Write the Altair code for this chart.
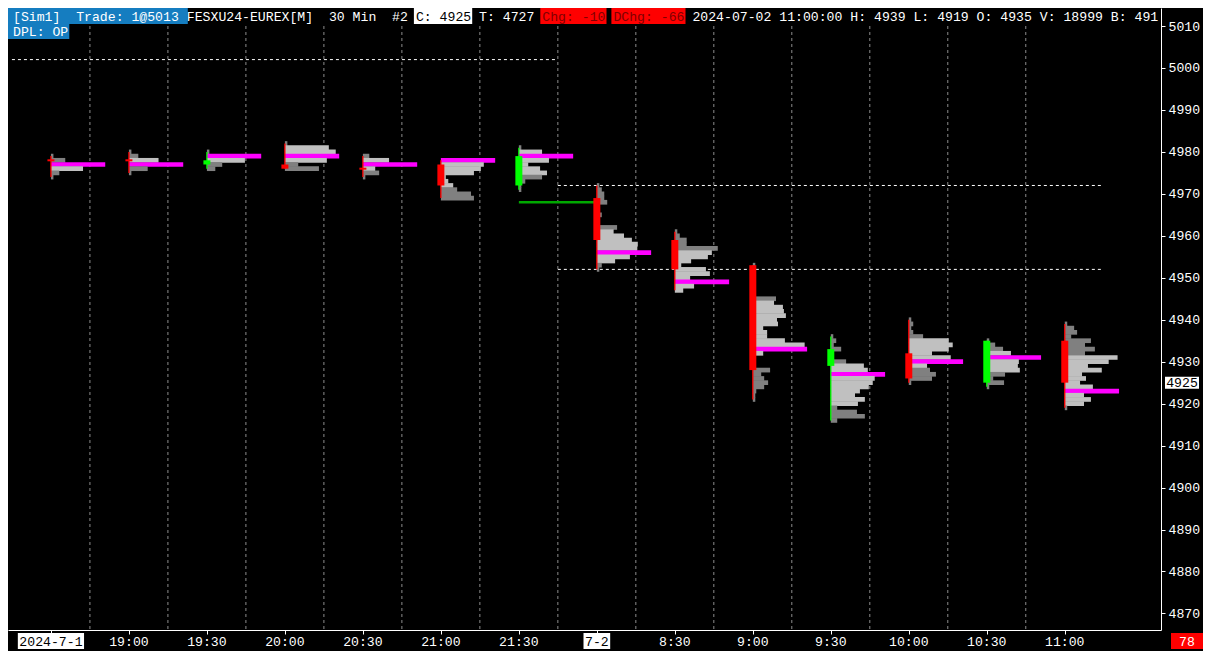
import altair as alt
import pandas as pd

# ---------------- data ----------------
TIME_LABELS = ["2024-7-1", "19:00", "19:30", "20:00", "20:30", "21:00", "21:30",
               "7-2", "8:30", "9:00", "9:30", "10:00", "10:30", "11:00"]
OPEN  = [4978, 4978, 4977, 4977, 4976, 4977, 4972, 4969, 4959, 4953, 4929, 4932, 4925, 4935]
HIGH  = [4979, 4980, 4980, 4982, 4979, 4978, 4981, 4972, 4961, 4953, 4936, 4940, 4935, 4939]
LOW   = [4974, 4975, 4976, 4976, 4974, 4969, 4971, 4952, 4947, 4921, 4916, 4925, 4924, 4919]
CLOSE = [4978, 4978, 4978, 4976, 4976, 4972, 4979, 4959, 4952, 4928, 4933, 4926, 4935, 4925]
POC     = [4977, 4977, 4979, 4979, 4977, 4978, 4979, 4956, 4949, 4933, 4927, 4930, 4931, 4923]
VA_HIGH = [4977, 4978, 4979, 4981, 4978, 4978, 4980, 4961, 4956, 4944, 4929, 4935, 4932, 4931]
VA_LOW  = [4976, 4977, 4978, 4978, 4976, 4972, 4975, 4954, 4947, 4932, 4920, 4929, 4928, 4920]

# volume at each price, from the bar high downwards
VOL_1830 = [2.5, 14.5, 55, 32.5, 8.5, 2.5]
VOL_1900 = [2.5, 9.5, 30, 55, 19, 2.5]
VOL_1930 = [2.5, 55, 38.5, 15.5, 8.5]
VOL_2000 = [2.5, 44.5, 51.5, 55, 42.5, 13.5, 34.5]
VOL_2030 = [6.5, 26.5, 55, 12.5, 16.5, 2.5]
VOL_2100 = [55, 43.5, 40.5, 33.5, 5, 7.5, 12.5, 16.5, 30.5, 33.5]
VOL_2130 = [2.5, 23.5, 55, 30.5, 9.5, 21.5, 28.5, 23.5, 6.5, 2.5, 2.5]
VOL_0800 = [2.5, 5, 7.5, 7.5, 10.5, 3, 3, 5, 3, 3, 20.5, 17, 27.5, 35.5, 41.5, 41, 55,
            33.5, 18.5, 5, 2.5]
VOL_0830 = [2.5, 5, 12, 12, 43.5, 37.5, 33.5, 16.5, 6.5, 31.5, 35.5, 15.5, 55, 19.5, 8.5]
VOL_0900 = [2.5, 2.5, 2.5, 2.5, 2.5, 2.5, 2.5, 2.5, 23.5, 21.5, 30.5, 31.5, 33.5, 24.5,
            25.5, 10.5, 14.5, 14.5, 32.5, 52.5, 55, 10.5, 2.5, 2.5, 2.5, 17.5, 8.5, 11.5,
            15.5, 11.5, 3.5, 2.5, 2.5]
VOL_0930 = [2.5, 5.5, 3, 10.5, 2.5, 2.5, 15.5, 33.5, 37.5, 55, 44.5, 42.5, 38.5, 29.5,
            24.5, 34.5, 27.5, 6.5, 26.5, 34.5, 6.5]
VOL_1000 = [2.5, 4.5, 2.5, 4.5, 14.5, 40.5, 44.5, 40.5, 23.5, 42.5, 55, 18.5, 21.5, 27.5,
            23.5, 2.5]
VOL_1030 = [2.5, 8.5, 16.5, 24.5, 55, 32.5, 31.5, 33.5, 18.5, 6.5, 17.5, 2.5]
VOL_1100 = [2.5, 9.5, 12.5, 6.5, 26.5, 20.5, 30.5, 20.5, 53.5, 44.5, 23.5, 37.5, 17.5,
            21.5, 15.5, 28.5, 55, 19.5, 26.5, 19.5, 2.5]
PROFILE_VOLUMES = [VOL_1830, VOL_1900, VOL_1930, VOL_2000, VOL_2030, VOL_2100, VOL_2130,
                   VOL_0800, VOL_0830, VOL_0900, VOL_0930, VOL_1000, VOL_1030, VOL_1100]
VOLUME_PER_BAR_SPACING = 79

REF_LEVELS = [5002, 4972, 4952]
REF_FROM_BAR = [-0.5, 6.5, 6.5]
REF_TO_BAR = [6.5, 13.5, 13.5]
GREEN_LEVEL = [4968]
GREEN_FROM_BAR = [6]
GREEN_TO_BAR = [7.02]
LAST_PRICE = ["4925"]
COUNTDOWN = "78"
PRICE_TICKS = list(range(4870, 5011, 10))

HEADER_SEGMENTS = ["[Sim1]  Trade: 1@5013 ", "FESXU24-EUREX[M]  30 Min  #2 ", "C: 4925",
                   " T: 4727 ", "Chg: -10", " ", "DChg: -66",
                   " 2024-07-02 11:00:00 H: 4939 L: 4919 O: 4935 V: 18999 B: 491"]
HEADER_LINE2 = "DPL: OP"

# ---------------- layout / style ----------------
W, H = 1153, 622
XMIN, XMAX = -0.5506, 14.234
YMIN, YMAX = 4866.05, 5014.30
PX_PER_SLOT = W / (XMAX - XMIN)
PX_PER_PT = H / (YMAX - YMIN)
BH = 3.5 / PX_PER_SLOT
XS = alt.Scale(domain=[XMIN, XMAX], nice=False, zero=False)
YS = alt.Scale(domain=[YMIN, YMAX], nice=False, zero=False)
FONT = "Liberation Mono"
CW = 7.9
FS = CW / 0.6
X0 = 5
BLUE = "#157dc0"
RED = "#ff0000"
DARKRED = "#800000"
SEG_STYLE = [("white", BLUE), ("white", None), ("black", "white"), ("white", None),
             (DARKRED, RED), ("white", None), (DARKRED, RED), ("white", None)]

XAX = alt.Axis(values=list(range(len(TIME_LABELS))), labels=False, ticks=True,
               tickColor="white", tickSize=4, tickWidth=1, domainColor="white",
               domainWidth=1, grid=False, title=None, orient="bottom")
YAX = alt.Axis(orient="right", values=PRICE_TICKS, title=None, labelColor="white",
               labelFont=FONT, labelFontSize=FS, tickColor="white", tickSize=4,
               tickWidth=1, labelPadding=3, domainColor="white", domainWidth=1,
               grid=False, labelOverlap=False, format="d")


def xq(field):
    return alt.X(field, type="quantitative", scale=XS, axis=XAX)


def yq(field):
    return alt.Y(field, type="quantitative", scale=YS, axis=YAX)


ONE = pd.DataFrame({"a": [1]})

# ---------------- derived tables ----------------
rows = []
for i, vols in enumerate(PROFILE_VOLUMES):
    for k, v in enumerate(vols):
        p = HIGH[i] - k
        if p == POC[i]:
            c = "#ff00ff"
        elif VA_LOW[i] <= p <= VA_HIGH[i]:
            c = "#c0c0c0"
        else:
            c = "#808080"
        rows.append({"slot": i, "price": p, "vol": v, "col": c})
prof = pd.DataFrame(rows)

cd = pd.DataFrame({"slot": list(range(len(OPEN))), "open": OPEN, "high": HIGH,
                   "low": LOW, "close": CLOSE})
cd["col"] = ["#00ff00" if c > o else RED for o, c in zip(OPEN, CLOSE)]

grid_df = pd.DataFrame({"g": [i + 0.5 for i in range(len(TIME_LABELS) - 1)]})
ref_df = pd.DataFrame({"level": REF_LEVELS, "a": REF_FROM_BAR, "b": REF_TO_BAR})
green_df = pd.DataFrame({"level": GREEN_LEVEL, "a": GREEN_FROM_BAR, "b": GREEN_TO_BAR})
lab_df = pd.DataFrame({"slot": list(range(len(TIME_LABELS))), "label": TIME_LABELS})
lab_df["hl"] = ["-" in s for s in TIME_LABELS]
lab_df["fg"] = ["black" if h else "white" for h in lab_df["hl"]]

# ---------------- layers ----------------
grid = alt.Chart(grid_df).mark_rule(color="#8c8c8c", strokeDash=[3, 3], strokeWidth=1).encode(
    x=xq("g"))

band = alt.Chart(ONE).mark_rect(color="black").encode(
    x=alt.value(0), x2=alt.value(W), y=alt.value(0), y2=alt.value(16))

refs = alt.Chart(ref_df).mark_rule(color="white", strokeDash=[3, 3], strokeWidth=1).encode(
    x=xq("a"), x2="b:Q", y=yq("level"))

green = alt.Chart(green_df).mark_rule(color="#00a800", strokeWidth=2.5).encode(
    x=xq("a"), x2="b:Q", y=yq("level"))

hist = alt.Chart(prof).transform_calculate(
    xe=f"datum.slot + datum.vol / {VOLUME_PER_BAR_SPACING}",
    yt="datum.price + 0.56", yb="datum.price - 0.56"
).mark_rect().encode(
    x=xq("slot"), x2="xe:Q", y=yq("yt"), y2="yb:Q",
    color=alt.Color("col:N", scale=None))

wick = alt.Chart(cd).mark_rule(strokeWidth=1.3).encode(
    x=xq("slot"), y=yq("low"), y2="high:Q",
    color=alt.Color("col:N", scale=None))

body = alt.Chart(cd).transform_calculate(
    b1=f"datum.slot - {BH}", b2=f"datum.slot + {BH}"
).mark_rect().encode(
    x=xq("b1"), x2="b2:Q", y=yq("open"), y2="close:Q",
    color=alt.Color("col:N", scale=None))

doji = alt.Chart(cd).transform_filter("datum.open == datum.close").transform_calculate(
    b1=f"datum.slot - {BH}", b2=f"datum.slot + {BH}"
).mark_rule(strokeWidth=2).encode(
    x=xq("b1"), x2="b2:Q", y=yq("close"),
    color=alt.Color("col:N", scale=None))

layers = [grid, band, refs, green, hist, wick, body, doji]

# header line 1
idx = 0
for seg, (fg, bg) in zip(HEADER_SEGMENTS, SEG_STYLE):
    n = len(seg)
    if bg is not None:
        bx1 = 0 if idx == 0 else X0 + idx * CW - 2
        bx2 = X0 + (idx + n) * CW + 1
        layers.append(alt.Chart(ONE).mark_rect(color=bg).encode(
            x=alt.value(bx1), x2=alt.value(bx2), y=alt.value(0), y2=alt.value(16)))
    body_txt = seg.strip()
    if body_txt:
        lead = len(seg) - len(seg.lstrip())
        layers.append(alt.Chart(ONE).mark_text(
            font=FONT, fontSize=FS, align="left", baseline="middle", color=fg).encode(
            x=alt.value(X0 + (idx + lead) * CW), y=alt.value(8.5),
            text=alt.value(body_txt.replace(" ", "\u00a0"))))
    idx += n

# header line 2
layers.append(alt.Chart(ONE).mark_rect(color=BLUE).encode(
    x=alt.value(0), x2=alt.value(X0 + len(HEADER_LINE2) * CW + 1),
    y=alt.value(16), y2=alt.value(31)))
layers.append(alt.Chart(ONE).mark_text(
    font=FONT, fontSize=FS, align="left", baseline="middle", color="white").encode(
    x=alt.value(X0), y=alt.value(24), text=alt.value(HEADER_LINE2.replace(" ", "\u00a0"))))

# bottom time labels
lab_box = alt.Chart(lab_df).transform_filter("datum.hl").transform_calculate(
    l1=f"datum.slot - (length(datum.label) * {CW} + 3) / 2 / {PX_PER_SLOT}",
    l2=f"datum.slot + (length(datum.label) * {CW} + 3) / 2 / {PX_PER_SLOT}"
).mark_rect(color="white").encode(
    x=xq("l1"), x2="l2:Q", y=alt.value(H + 3), y2=alt.value(H + 19))
lab_txt = alt.Chart(lab_df).mark_text(
    font=FONT, fontSize=FS, align="center", baseline="middle").encode(
    x=xq("slot"), y=alt.value(H + 11.5),
    text="label:N", color=alt.Color("fg:N", scale=None))
layers += [lab_box, lab_txt]

# last price box on the price axis
lp = pd.DataFrame({"lbl": LAST_PRICE})
lp_box = alt.Chart(lp).transform_calculate(
    pt=f"toNumber(datum.lbl) + {6 / PX_PER_PT}",
    pb=f"toNumber(datum.lbl) - {6 / PX_PER_PT}",
).mark_rect(color="white").encode(
    x=alt.value(W + 4), x2=alt.value(W + 38), y=yq("pt"), y2="pb:Q")
lp_txt = alt.Chart(lp).transform_calculate(p="toNumber(datum.lbl)").mark_text(
    font=FONT, fontSize=FS, align="center", baseline="middle", color="black").encode(
    x=alt.value(W + 21), y=yq("p"), text="lbl:N")
layers += [lp_box, lp_txt]

# countdown box
layers.append(alt.Chart(ONE).mark_rect(color=RED).encode(
    x=alt.value(W + 10), x2=alt.value(W + 42), y=alt.value(H + 3), y2=alt.value(H + 19)))
layers.append(alt.Chart(ONE).mark_text(
    font=FONT, fontSize=FS, align="center", baseline="middle", color="white").encode(
    x=alt.value(W + 26), y=alt.value(H + 11.5), text=alt.value(COUNTDOWN)))

chart = alt.layer(*layers).properties(
    width=W, height=H,
    padding={"left": 0, "top": 0, "right": 42, "bottom": 21},
    autosize=alt.AutoSizeParams(type="none"),
    background="black",
).configure_view(strokeWidth=0).configure_axis(zindex=1)

chart.save("out.html", embed_options={"renderer": "svg", "actions": False})
